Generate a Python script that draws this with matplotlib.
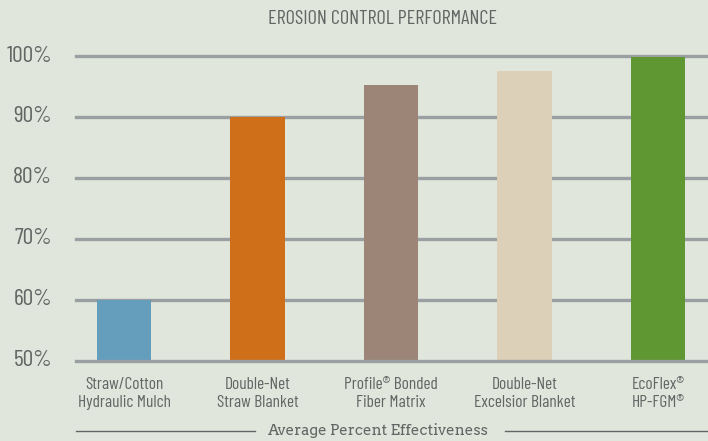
import matplotlib.pyplot as plt

# Chart data
categories = [
    "Straw/Cotton\nHydraulic Mulch",
    "Double-Net\nStraw Blanket",
    "Profile® Bonded\nFiber Matrix",
    "Double-Net\nExcelsior Blanket",
    "EcoFlex®\nHP-FGM®",
]
effectiveness = [60, 90, 95.2, 97.5, 99.8]
bar_colors = ["#659dbd", "#d06f1a", "#9c8576", "#ddd0b8", "#5f9732"]
y_ticks = [50, 60, 70, 80, 90, 100]
y_labels = ["50%", "60%", "70%", "80%", "90%", "100%"]

bg = "#e0e6dc"
grid_col = "#9a9fa2"
text_col = "#626664"
narrow = ["Barlow Condensed", "DejaVu Sans"]

fig = plt.figure(figsize=(7.08, 4.41), dpi=100, facecolor=bg)
ax = fig.add_axes([76 / 708, 1 - 361 / 441, 632 / 708, (361 - 56) / 441])
ax.set_facecolor(bg)

x = list(range(len(categories)))
ax.bar(x, [v - 50 for v in effectiveness], bottom=50, width=0.405,
       color=bar_colors, zorder=2)

for t in y_ticks:
    ax.axhline(t, color=grid_col, lw=2.4, zorder=1 if t != 50 else 3,
               clip_on=False)

ax.set_xlim(-0.36, 4.375)
ax.set_ylim(50, 100)
for s in ax.spines.values():
    s.set_visible(False)
ax.set_xticks([])
ax.set_yticks([])

# y labels sit left of the axes
for t, lab in zip(y_ticks, y_labels):
    ax.annotate(lab, (0, t), xycoords=ax.get_yaxis_transform(),
                xytext=(-24, 0), textcoords="offset pixels",
                ha="right", va="center", fontsize=17, color=text_col,
                family=narrow)

for xi, cat in zip(x, categories):
    ax.annotate(cat, (xi, 50), xytext=(0, -16), textcoords="offset pixels",
                ha="center", va="top", fontsize=12.5, color=text_col,
                family=narrow, linespacing=1.22)

fig.text(382 / 708, 1 - 19 / 441, "EROSION CONTROL PERFORMANCE",
         ha="center", va="center", fontsize=14.5, color=text_col,
         family=narrow)

fig.text(378 / 708, 1 - 430 / 441, "Average Percent Effectiveness",
         ha="center", va="center", fontsize=10.8, color=text_col,
         family=["Arvo", "DejaVu Serif"])
yl = 1 - 431 / 441
fig.add_artist(plt.Line2D([76 / 708, 255 / 708], [yl, yl], color=text_col,
                          lw=1.0))
fig.add_artist(plt.Line2D([505 / 708, 1.0], [yl, yl], color=text_col,
                          lw=1.0))

fig.savefig("out.png", dpi=100, facecolor=bg)
